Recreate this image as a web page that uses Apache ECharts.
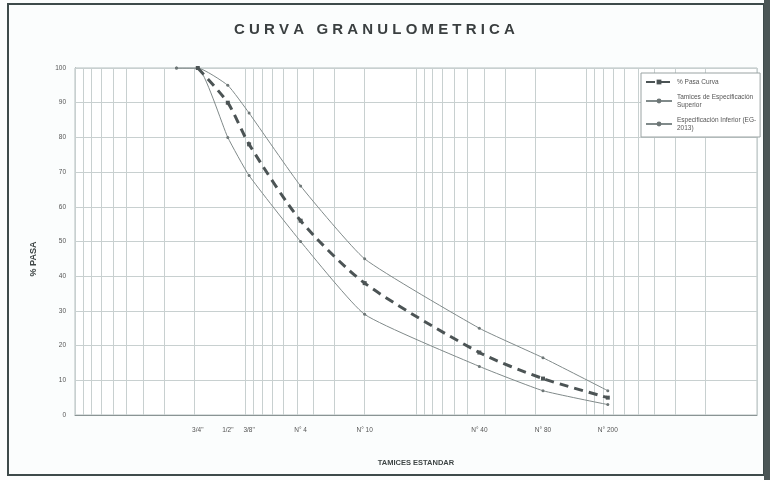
<!DOCTYPE html>
<html><head><meta charset="utf-8">
<script src="https://cdn.jsdelivr.net/npm/echarts@6/dist/echarts.min.js"></script>
<style>html,body{margin:0;padding:0;background:#fff}#c{width:770px;height:480px}</style>
</head><body><div id="c"></div>
<script>
// Sieve openings (mm) and % passing
const sieveSizesMM = [25.4, 19.05, 12.7, 9.525, 4.75, 2.0, 0.425, 0.18, 0.075];
const pasaCurva = [null, 100, 90, 78, 56, 38, 18, 10.5, 5];
const limiteSuperior = [100, 100, 95, 87, 66, 45, 25, 16.5, 7];
const limiteInferior = [100, 100, 80, 69, 50, 29, 14, 7, 3];
const tickSizesMM = [19.05, 12.7, 9.525, 4.75, 2.0, 0.425, 0.18, 0.075];
const tickLabels = ['3/4"', '1/2"', '3/8"', 'N° 4', 'N° 10', 'N° 40', 'N° 80', 'N° 200'];
const seriesNames = ['% Pasa Curva', 'Tamices de Especificación\nSuperior', 'Especificación Inferior (EG-\n2013)'];

const logGrid = [];
for (let k = -2; k <= 1; k++) for (let m = 1; m <= 9; m++) logGrid.push(+(m * Math.pow(10, k)).toPrecision(3));
logGrid.push(100);

const pts = arr => sieveSizesMM.map((s, i) => [s, arr[i]]).filter(p => p[1] != null);

const chart = echarts.init(document.getElementById('c'), null, {renderer: 'canvas'});
const font = 'Liberation Sans, Arial, sans-serif';
chart.setOption({
  backgroundColor: '#fbfdfd',
  animation: false,
  textStyle: {fontFamily: font},
  graphic: [
    {type: 'rect', shape: {x: 8, y: 4, width: 756, height: 471}, style: {fill: 'none', stroke: '#3d4a4a', lineWidth: 2}, silent: true, z: -1},
    {type: 'rect', shape: {x: 764, y: 0, width: 6, height: 480}, style: {fill: '#4b5656'}, silent: true},
    {type: 'text', x: 34, y: 259, rotation: Math.PI / 2, silent: true,
     style: {text: '% PASA', align: 'center', verticalAlign: 'middle', fontSize: 9, fontWeight: 'bold', fill: '#3f4646', fontFamily: font}}
  ],
  title: {
    text: 'C U R V A   G R A N U L O M E T R I C A',
    left: 229, top: 17,
    textStyle: {fontSize: 15, fontWeight: 'bold', color: '#3a3f40', fontFamily: font}
  },
  legend: {
    orient: 'vertical', left: 641, top: 73, width: 112,
    backgroundColor: '#fff', borderColor: '#9aa3a3', borderWidth: 1,
    padding: [5, 4, 5, 4], itemGap: 7, itemWidth: 26, itemHeight: 6,
    textStyle: {fontSize: 6.5, color: '#555', lineHeight: 8},
    data: seriesNames
  },
  grid: {left: 75, right: 13, top: 68, bottom: 65, show: true, borderColor: '#b5bebe', borderWidth: 1, backgroundColor: '#fff'},
  xAxis: {
    type: 'log', inverse: true, min: 0.01, max: 100, logBase: 10,
    name: 'TAMICES ESTANDAR', nameLocation: 'middle', nameGap: 44,
    nameTextStyle: {fontSize: 7.5, fontWeight: 'bold', color: '#3f4646'},
    axisLine: {show: true, lineStyle: {color: '#8a9494'}},
    axisTick: {show: false},
    splitLine: {show: false},
    axisLabel: {
      customValues: tickSizesMM, fontSize: 6.5, color: '#555', margin: 12,
      formatter: v => { const i = tickSizesMM.findIndex(s => Math.abs(s - v) / s < 1e-3); return i >= 0 ? tickLabels[i] : ''; }
    }
  },
  yAxis: {
    type: 'value', min: 0, max: 100, interval: 10,
    axisLine: {show: true, lineStyle: {color: '#8a9494'}},
    axisTick: {show: false},
    axisLabel: {fontSize: 6.5, color: '#555', margin: 9},
    splitLine: {show: true, lineStyle: {color: '#c8d0d0', width: 1}}
  },
  series: [
    {
      name: seriesNames[0], type: 'line', data: pts(pasaCurva), smooth: 0.25,
      symbol: 'rect', symbolSize: 4, showSymbol: true, z: 5,
      lineStyle: {color: '#4c5455', width: 3, type: [9, 6]},
      itemStyle: {color: '#4c5455'}
    },
    {
      name: seriesNames[1], type: 'line', data: pts(limiteSuperior), smooth: 0.15,
      symbol: 'circle', symbolSize: 3, z: 4,
      lineStyle: {color: '#808a8a', width: 1},
      itemStyle: {color: '#6d7676'},
      markLine: {
        silent: true, symbol: 'none', label: {show: false},
        lineStyle: {color: '#c8d0d0', width: 1, type: 'solid'},
        data: logGrid.map(v => ({xAxis: v})), z: 1
      }
    },
    {
      name: seriesNames[2], type: 'line', data: pts(limiteInferior), smooth: 0.15,
      symbol: 'circle', symbolSize: 3, z: 4,
      lineStyle: {color: '#808a8a', width: 1},
      itemStyle: {color: '#6d7676'}
    }
  ]
});
</script></body></html>
